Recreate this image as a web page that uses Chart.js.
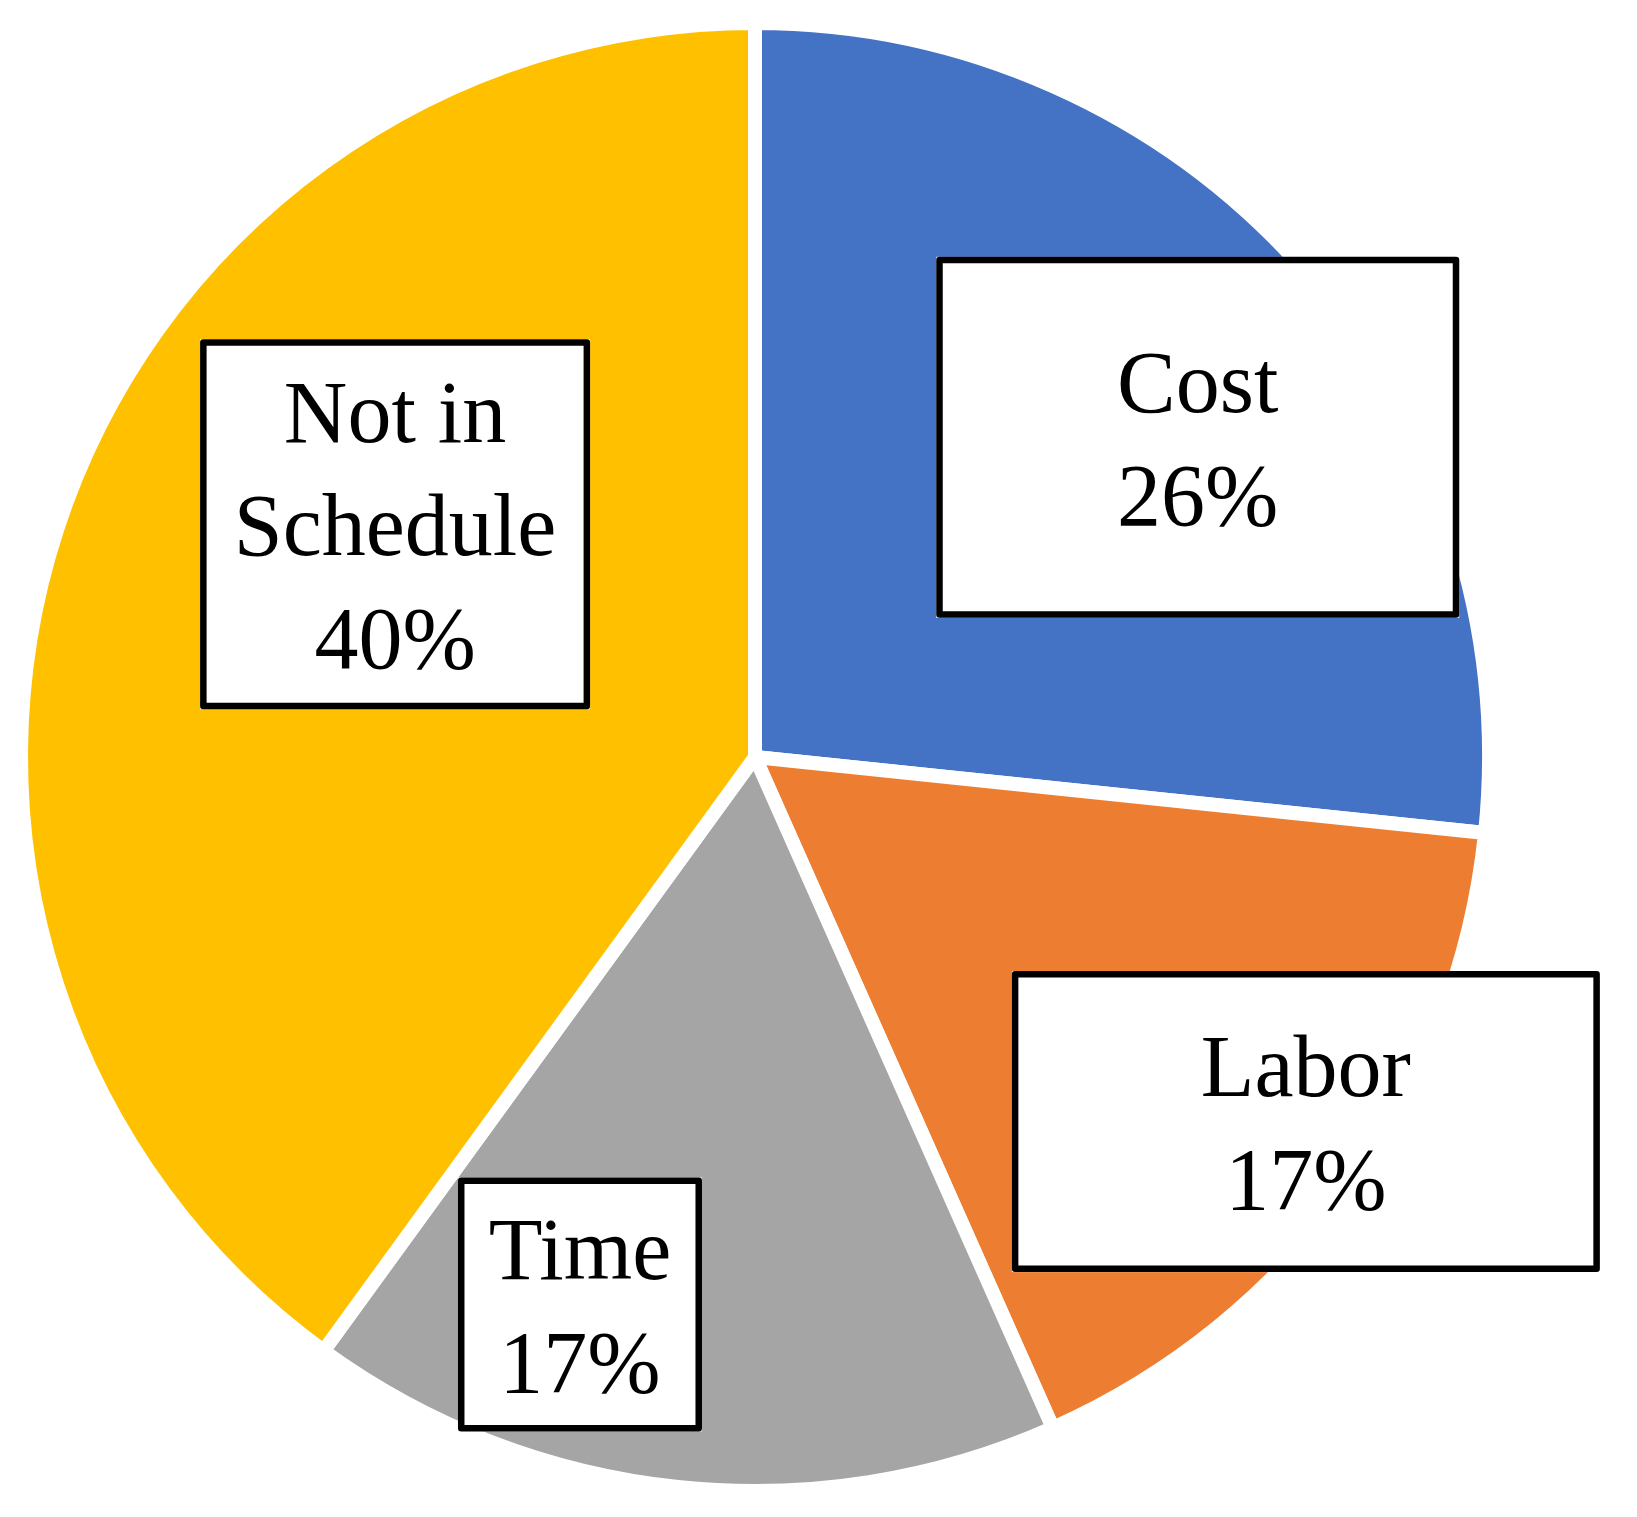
<!DOCTYPE html>
<html>
<head>
<meta charset="utf-8">
<script src="https://cdn.jsdelivr.net/npm/chart.js@4"></script>
<style>
  html, body { margin: 0; padding: 0; background: #fff; }
  canvas { display: block; }
</style>
</head>
<body>
<canvas id="myChart" width="1637" height="1517"></canvas>
<script>
// slice names and shares
var categories = ['Cost', 'Labor', 'Time', 'Not in Schedule'];
var shares = [26.65, 16.7, 16.65, 40];
// percent text as printed on the labels
var pctText = ['26%', '17%', '17%', '40%'];
var colors = ['#4472C4', '#ED7D31', '#A5A5A5', '#FFC000'];

// label box layout: name lines, box size, placement relative to slice middle
var labelLines = [['Cost'], ['Labor'], ['Time'], ['Not in', 'Schedule']];
var boxSize = [[523, 361], [588, 301], [244, 254], [390, 370]];
var boxDist = [0.744, 0.90, 0.783, 0.584];     // fraction of outer radius
var boxTurn = [6.2, -2.5, 11.7, 14.9];         // degrees off the slice middle

var boxLabels = {
    id: 'boxLabels',
    afterDatasetsDraw: function (chart) {
        var ctx = chart.ctx;
        var arcs = chart.getDatasetMeta(0).data;
        var fontSize = 88, lineH = 113, capH = fontSize * 0.66;
        ctx.save();
        arcs.forEach(function (arc, i) {
            var mid = (arc.startAngle + arc.endAngle) / 2 + boxTurn[i] * Math.PI / 180;
            var d = arc.outerRadius * boxDist[i];
            var cx = arc.x + Math.cos(mid) * d;
            var cy = arc.y + Math.sin(mid) * d;
            var w = boxSize[i][0], h = boxSize[i][1];
            var lw = 6.5;
            ctx.fillStyle = '#fff';
            ctx.fillRect(cx - w / 2, cy - h / 2, w, h);
            ctx.lineWidth = lw;
            ctx.lineJoin = 'round';
            ctx.strokeStyle = '#000';
            ctx.strokeRect(cx - w / 2 + lw / 2, cy - h / 2 + lw / 2, w - lw, h - lw);

            var lines = labelLines[i].concat([pctText[i]]);
            ctx.fillStyle = '#000';
            ctx.font = fontSize + 'px "Liberation Serif", "Times New Roman", serif';
            ctx.textAlign = 'center';
            ctx.textBaseline = 'alphabetic';
            var n = lines.length;
            lines.forEach(function (t, k) {
                var by = cy + (k - (n - 1) / 2) * lineH + capH / 2 + 2;
                ctx.fillText(t, cx, by);
            });
        });
        ctx.restore();
    }
};

var ctx = document.getElementById('myChart');
var myChart = new Chart(ctx, {
    type: 'pie',
    data: {
        labels: categories,
        datasets: [{
            data: shares,
            backgroundColor: colors,
            borderColor: '#ffffff',
            borderWidth: 14
        }]
    },
    options: {
        responsive: false,
        animation: false,
        radius: 734,
        layout: {
            padding: { left: 0, right: 127, top: 0, bottom: 3 }
        },
        plugins: {
            legend: { display: false },
            tooltip: { enabled: false }
        }
    },
    plugins: [boxLabels]
});
</script>
</body>
</html>
